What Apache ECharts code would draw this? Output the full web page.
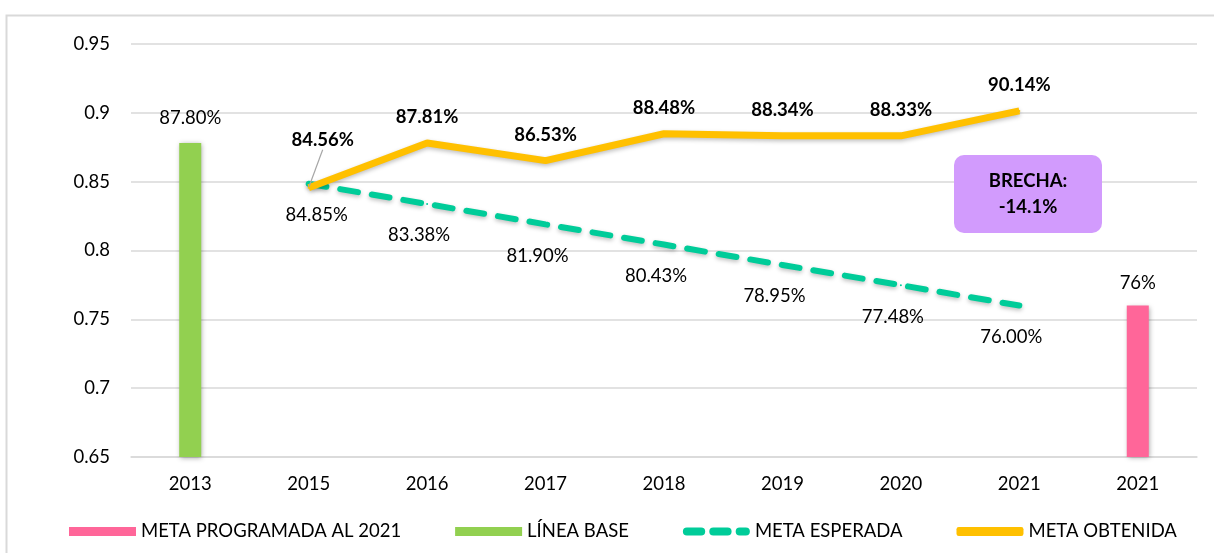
<!DOCTYPE html>
<html>
<head>
<meta charset="utf-8">
<script src="https://cdn.jsdelivr.net/npm/echarts@6/dist/echarts.min.js"></script>
<style>
    html, body { margin: 0; padding: 0; background: #fff; }
    #chart { width: 1214px; height: 553px; }
</style>
</head>
<body>
<div id="chart"></div>
<script>
var years = ['2013', '2015', '2016', '2017', '2018', '2019', '2020', '2021', '2021'];
var lineaBase = [0.878, null, null, null, null, null, null, null, null];
var metaProgramada = [null, null, null, null, null, null, null, null, 0.76];
var metaEsperada = [null, 0.8485, 0.8338, 0.8190, 0.8043, 0.7895, 0.7748, 0.7600, null];
var metaObtenida = [null, 0.8456, 0.8781, 0.8653, 0.8848, 0.8834, 0.8833, 0.9014, null];
var yTicks = { min: 0.65, max: 0.95, step: 0.05 };

var FONT = 'Lato, "Open Sans", sans-serif';
var FS = 18.5;
var chart = echarts.init(document.getElementById('chart'));

function pct(v, d) {
    return (v * 100).toFixed(d) + '%';
}

// pequeños ajustes de etiquetas por punto (como en el original)
var esperadaData = metaEsperada.map(function (v, i) {
    if (i === 1) return { value: v, label: { offset: [8, 0] } };
    return v;
});
var obtenidaOffsets = { 2: [12, 0], 3: [8, 0] };
var obtenidaData = metaObtenida.map(function (v, i) {
    if (i === 1) return { value: v, labelLine: { show: true } };
    if (obtenidaOffsets[i]) return { value: v, label: { offset: obtenidaOffsets[i] } };
    return v;
});

var option = {
    backgroundColor: '#fff',
    textStyle: { fontFamily: FONT },
    animation: false,
    grid: { left: 131, right: 17, top: 44, bottom: 96 },
    legend: {
        bottom: 7,
        left: 64,
        itemWidth: 67,
        itemHeight: 9,
        itemGap: 54,
        textStyle: { fontSize: FS, color: '#000', fontFamily: FONT },
        data: [
            { name: 'META PROGRAMADA AL 2021', icon: 'rect' },
            { name: 'LÍNEA BASE', icon: 'rect' },
            { name: 'META ESPERADA', icon: 'path://M4,0h14a4,4 0 0 1 0,8h-14a4,4 0 0 1 0,-8z M30,0h14a4,4 0 0 1 0,8h-14a4,4 0 0 1 0,-8z M56,0h6a4,4 0 0 1 0,8h-6a4,4 0 0 1 0,-8z' },
            { name: 'META OBTENIDA', icon: 'roundRect' }
        ]
    },
    xAxis: {
        type: 'category',
        data: years,
        axisLine: { lineStyle: { color: '#d9d9d9', width: 1.5 } },
        axisTick: { show: false },
        axisLabel: { fontSize: FS, color: '#000', margin: 18 }
    },
    yAxis: {
        type: 'value',
        min: yTicks.min,
        max: yTicks.max,
        interval: yTicks.step,
        axisLine: { show: false },
        axisTick: { show: false },
        splitLine: { lineStyle: { color: '#d9d9d9', width: 1.5 } },
        axisLabel: { fontSize: FS, color: '#000', margin: 21 }
    },
    series: [
        {
            name: 'META PROGRAMADA AL 2021',
            type: 'bar',
            data: metaProgramada,
            barWidth: 22,
            barGap: '-100%',
            itemStyle: {
                color: '#FF6699',
                shadowBlur: 5, shadowColor: 'rgba(0,0,0,0.35)', shadowOffsetX: 1, shadowOffsetY: 1
            },
            label: {
                show: true, position: 'top', distance: 13,
                fontSize: FS, color: '#000',
                formatter: function (p) { return pct(p.value, 0); }
            }
        },
        {
            name: 'LÍNEA BASE',
            type: 'bar',
            data: lineaBase,
            barWidth: 22,
            itemStyle: {
                color: '#92D050',
                shadowBlur: 5, shadowColor: 'rgba(0,0,0,0.35)', shadowOffsetX: 1, shadowOffsetY: 1
            },
            label: {
                show: true, position: 'top', distance: 16,
                fontSize: FS, color: '#000',
                formatter: function (p) { return pct(p.value, 2); }
            }
        },
        {
            name: 'META ESPERADA',
            type: 'line',
            data: esperadaData,
            symbol: 'circle',
            symbolSize: 2,
            color: '#00CC99',
            itemStyle: { color: '#00CC99' },
            lineStyle: {
                color: '#00CC99', width: 6, type: [18, 14], cap: 'round',
                shadowBlur: 4, shadowColor: 'rgba(0,0,0,0.25)', shadowOffsetY: 2
            },
            label: {
                show: true, position: 'bottom', distance: 21, offset: [-8, 0],
                fontSize: FS, color: '#000',
                formatter: function (p) { return pct(p.value, 2); }
            },
            z: 3
        },
        {
            name: 'META OBTENIDA',
            type: 'line',
            data: obtenidaData,
            symbol: 'circle',
            symbolSize: 2,
            color: '#FFC000',
            itemStyle: { color: '#FFC000' },
            lineStyle: {
                color: '#FFC000', width: 7,
                shadowBlur: 4, shadowColor: 'rgba(0,0,0,0.25)', shadowOffsetY: 2
            },
            label: {
                show: true, position: 'top', distance: 15, offset: [-3, 0],
                fontSize: FS, fontWeight: 'bold', color: '#000',
                formatter: function (p) { return pct(p.value, 2); }
            },
            labelLine: { show: false, lineStyle: { color: '#a6a6a6', width: 1.2 } },
            labelLayout: function (p) {
                if (p.dataIndex === 1) {
                    return { dx: 14, dy: -22 };
                }
            },
            z: 4
        }
    ],
    graphic: [
        {
            type: 'rect',
            left: 4, top: 13,
            shape: { width: 1230, height: 560 },
            style: { fill: 'none', stroke: '#d9d9d9', lineWidth: 2 },
            silent: true, z: -10
        },
        {
            type: 'group',
            left: 954, top: 155,
            z: 100,
            children: [
                {
                    type: 'rect',
                    z: 100,
                    shape: { width: 148, height: 78, r: 10 },
                    style: { fill: '#D29BFD' }
                },
                {
                    type: 'text',
                    z: 101,
                    x: 74, y: 39,
                    style: {
                        text: 'BRECHA:\n-14.1%',
                        fill: '#000',
                        font: 'bold ' + FS + 'px ' + FONT,
                        align: 'center',
                        verticalAlign: 'middle',
                        lineHeight: 26
                    }
                }
            ]
        }
    ]
};

chart.setOption(option);
</script>
</body>
</html>
